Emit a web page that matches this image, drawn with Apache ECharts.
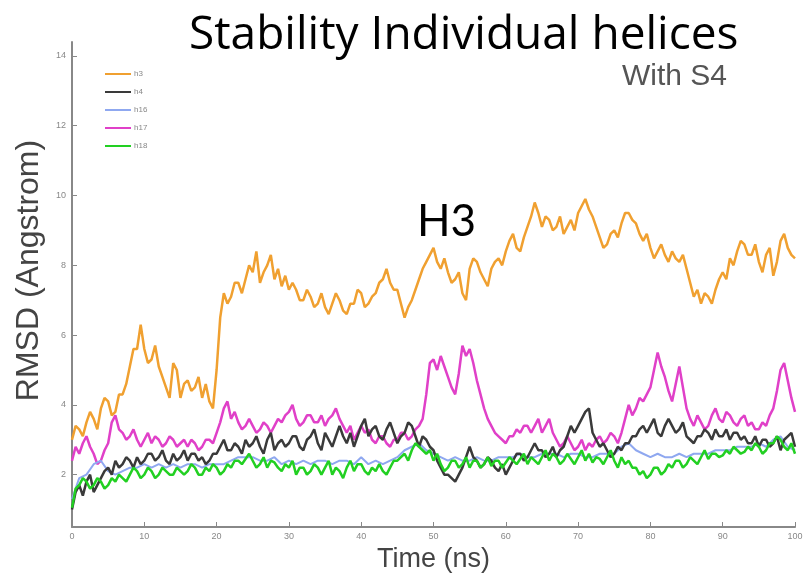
<!DOCTYPE html>
<html>
<head>
<meta charset="utf-8">
<script src="https://cdn.jsdelivr.net/npm/echarts@6/dist/echarts.min.js"></script>
<style>
html,body{margin:0;padding:0;background:#fff;}
#main{width:808px;height:582px;}
</style>
</head>
<body>
<div id="main"></div>
<script>
// RMSD per helix, sampled every 0.5 ns (h16 every 1 ns), 0..100 ns
const h3=[3.0,3.4, 3.3,3.1, 3.5,3.8, 3.6,3.3, 3.9,4.2, 4.1,3.7, 3.8,4.3, 4.3,4.6, 5.1,5.6, 5.6,6.3,
  5.6,5.2, 5.3,5.7, 5.1,4.8, 4.5,4.2, 5.2,5.0, 4.2,4.6, 4.7,4.4, 4.5,4.8, 4.2,4.6, 4.1,3.9,
  5.0,6.5, 7.2,6.9, 7.1,7.5, 7.5,7.2, 7.6,8.0, 7.8,8.4, 7.5,7.8, 8.0,8.3, 7.6,7.9, 7.4,7.7,
  7.3,7.5, 7.3,7.0, 7.0,7.3, 7.1,6.8, 6.9,7.2, 6.8,6.6, 6.9,7.2, 7.0,6.7, 6.6,6.9, 6.9,7.3,
  7.2,6.8, 6.9,7.1, 7.2,7.5, 7.6,7.9, 7.5,7.3, 7.3,6.9, 6.5,6.8, 7.0,7.3, 7.6,7.9, 8.1,8.3,
  8.5,8.1, 7.9,8.2, 7.8,7.5, 7.6,7.8, 7.2,7.0, 7.9,8.2, 8.1,7.8, 7.6,7.4, 7.9,8.1, 8.2,8.0,
  8.4,8.7, 8.9,8.5, 8.4,8.8, 9.1,9.4, 9.8,9.5, 9.1,9.4, 9.3,9.0, 9.1,9.4, 8.9,9.1, 9.3,9.0,
  9.5,9.7, 9.9,9.6, 9.4,9.1, 8.8,8.5, 8.6,8.9, 9.0,8.8, 9.2,9.5, 9.5,9.3, 9.2,8.9, 8.7,8.9,
  8.5,8.2, 8.4,8.6, 8.3,8.1, 8.4,8.2, 8.1,8.3, 7.9,7.5, 7.1,7.3, 6.9,7.2, 7.1,6.9, 7.3,7.6,
  7.8,7.6, 8.2,8.0, 8.4,8.7, 8.6,8.3, 8.3,8.6, 8.1,7.8, 8.3,8.5, 7.7,8.1, 8.7,8.9, 8.5,8.3, 8.2];
const h4=[1.0,1.5, 1.7,1.4, 1.8,2.0, 1.5,1.7, 1.9,2.1, 2.2,2.0, 2.4,2.2, 2.3,2.5, 2.4,2.2, 2.5,2.3,
  2.4,2.6, 2.6,2.4, 2.5,2.7, 2.4,2.3, 2.6,2.4, 2.5,2.7, 2.4,2.6, 2.6,2.4, 2.5,2.3, 2.4,2.6,
  2.6,2.8, 3.0,2.7, 2.7,2.9, 2.8,2.6, 3.0,2.8, 2.9,3.1, 2.8,2.6, 3.0,3.2, 2.7,2.9, 3.0,2.8,
  2.9,3.1, 3.1,2.8, 2.7,3.0, 3.1,3.3, 2.9,2.7, 3.2,3.0, 2.8,3.1, 3.4,3.1, 2.9,3.2, 2.8,3.1,
  3.4,3.6, 3.1,3.3, 3.4,3.1, 3.0,3.3, 3.5,3.2, 2.9,3.1, 3.2,3.5, 3.4,3.1, 2.8,3.1, 3.0,2.8,
  2.7,2.4, 2.2,2.0, 2.0,1.9, 1.8,2.0, 2.2,2.5, 2.8,2.5, 2.4,2.2, 2.3,2.5, 2.4,2.2, 2.1,2.3,
  2.0,2.2, 2.4,2.6, 2.6,2.4, 2.5,2.7, 2.9,2.7, 2.7,2.5, 2.6,2.8, 2.5,2.7, 2.8,3.1, 3.4,3.2,
  3.4,3.6, 3.8,3.9, 3.2,3.0, 2.8,2.9, 2.7,2.5, 2.6,2.8, 2.7,2.9, 2.9,3.1, 3.1,3.3, 3.4,3.2,
  3.4,3.6, 3.2,3.1, 3.4,3.6, 3.4,3.2, 3.3,3.5, 3.1,3.0, 2.9,3.1, 3.1,3.3, 3.2,3.0, 3.3,3.1,
  3.1,3.3, 3.0,3.2, 3.2,3.0, 3.1,2.9, 2.9,3.1, 2.8,3.0, 3.0,2.8, 2.9,3.1, 2.7,3.0, 3.1,3.2, 2.8];
const h16=[1.3,1.9,2.0,2.3,2.4,2.1,2.0,2.1,2.2,2.2,2.3,2.2,2.3,2.2,2.3,2.2,2.3,2.3,2.2,2.3,
  2.3,2.3,2.4,2.5,2.5,2.5,2.4,2.4,2.5,2.3,2.4,2.3,2.4,2.3,2.4,2.4,2.3,2.4,2.4,2.3,
  2.5,2.3,2.4,2.3,2.4,2.5,2.7,2.8,2.9,2.7,2.6,2.5,2.4,2.5,2.4,2.4,2.5,2.4,2.4,2.5,
  2.5,2.5,2.6,2.5,2.5,2.6,2.6,2.6,2.5,2.6,2.6,2.5,2.5,2.6,2.6,2.6,2.8,2.9,2.7,2.6,
  2.5,2.6,2.5,2.5,2.6,2.5,2.6,2.6,2.6,2.7,2.7,2.7,2.8,2.8,2.8,2.9,2.8,3.0,3.1,2.8,2.7];
const h17=[2.4,2.8, 2.6,2.9, 3.1,2.8, 2.6,2.3, 2.4,2.7, 2.9,3.5, 3.7,3.3, 3.2,3.0, 3.1,3.3, 3.0,2.8,
  3.0,3.2, 2.9,3.1, 3.0,2.8, 2.9,3.1, 3.0,2.8, 2.9,3.0, 2.8,3.0, 2.9,2.7, 2.8,3.0, 3.0,2.9,
  3.2,3.5, 3.9,4.1, 3.6,3.8, 3.5,3.3, 3.4,3.6, 3.4,3.2, 3.3,3.5, 3.4,3.2, 3.4,3.6, 3.5,3.7,
  3.8,4.0, 3.6,3.4, 3.5,3.7, 3.7,3.5, 3.5,3.7, 3.4,3.6, 3.7,3.9, 3.6,3.4, 3.2,3.4, 3.0,3.2,
  3.4,3.2, 3.3,3.0, 2.9,3.1, 3.1,2.9, 2.8,3.0, 3.0,3.2, 3.2,3.0, 3.1,3.3, 3.4,3.6, 4.3,5.2,
  5.3,5.0, 5.4,5.1, 4.8,4.5, 4.3,4.9, 5.7,5.4, 5.6,5.2, 4.7,4.3, 3.9,3.6, 3.4,3.2, 3.1,3.0,
  2.9,3.1, 3.1,3.3, 3.2,3.4, 3.4,3.2, 3.4,3.6, 3.2,3.4, 3.6,3.2, 3.0,2.8, 2.9,3.1, 2.9,2.7,
  2.8,3.0, 2.7,2.9, 2.8,3.0, 3.1,2.9, 3.0,3.2, 3.1,2.9, 3.2,3.6, 4.0,3.7, 3.9,4.2, 4.1,4.3,
  4.5,5.0, 5.5,5.1, 4.8,4.4, 4.1,4.6, 5.1,4.5, 3.9,3.6, 3.4,3.7, 3.5,3.3, 3.4,3.7, 3.9,3.6,
  3.5,3.8, 3.7,3.5, 3.4,3.6, 3.7,3.4, 3.5,3.3, 3.3,3.5, 3.4,3.7, 3.9,4.4, 5.0,5.2, 4.7,4.2, 3.8];
const h18=[1.05,1.6, 1.7,1.9, 1.8,1.6, 1.7,1.9, 1.8,1.6, 1.7,1.9, 1.8,2.0, 1.9,1.8, 2.0,2.2, 2.1,1.9,
  2.0,2.2, 2.1,1.9, 2.0,2.2, 2.1,2.0, 2.0,2.2, 2.1,2.0, 2.1,2.3, 2.2,2.0, 2.0,2.2, 2.1,2.3,
  2.2,2.0, 2.1,2.3, 2.2,2.4, 2.4,2.3, 2.45,2.6, 2.4,2.2, 2.3,2.5, 2.2,2.4, 2.35,2.2, 2.1,2.3,
  2.2,2.4, 2.0,2.2, 2.2,2.0, 2.1,2.3, 2.2,2.0, 2.2,2.4, 2.0,2.2, 2.1,1.9, 2.2,2.4, 2.1,2.3,
  2.3,2.1, 2.0,2.2, 2.1,2.3, 2.1,2.0, 2.2,2.4, 2.4,2.5, 2.6,2.4, 2.7,2.9, 2.8,2.7, 2.6,2.7,
  2.4,2.6, 2.3,2.1, 2.2,2.4, 2.4,2.2, 2.3,2.5, 2.2,2.4, 2.4,2.2, 2.3,2.5, 2.25,2.4, 2.4,2.2,
  2.35,2.5, 2.4,2.3, 2.45,2.6, 2.3,2.5, 2.4,2.3, 2.5,2.7, 2.4,2.6, 2.5,2.3, 2.4,2.6, 2.45,2.3,
  2.5,2.7, 2.4,2.6, 2.35,2.5, 2.45,2.3, 2.5,2.7, 2.4,2.2, 2.5,2.3, 2.4,2.2, 2.2,2.0, 2.1,1.9,
  2.0,2.2, 2.2,2.0, 2.1,2.3, 2.2,2.4, 2.4,2.2, 2.3,2.5, 2.4,2.3, 2.5,2.7, 2.45,2.6, 2.6,2.5,
  2.55,2.7, 2.6,2.8, 2.7,2.6, 2.65,2.8, 2.7,2.9, 2.8,2.6, 2.7,2.9, 2.9,3.1, 3.0,2.8, 2.7,2.9, 2.6];
const yTicks=[2,4,6,8,10,12,14];
const seriesNames=['h3','h4','h16','h17','h18'];
const seriesColors=['#f0a030','#3a3a3a','#8fa8f0','#e040c8','#22d022'];
const sampleStep={h3:0.5,h4:0.5,h16:1,h17:0.5,h18:0.5};

const chart=echarts.init(document.getElementById('main'),null,{renderer:'canvas'});

function toPairs(arr,step){
  return arr.map(function(v,i){return [i*step,v];});
}
const dataMap={h3:h3,h4:h4,h16:h16,h17:h17,h18:h18};
// draw order: magenta under the dark line, green on top
const drawOrder=['h3','h17','h16','h4','h18'];

const option={
  animation:false,
  backgroundColor:'#fff',
  title:{
    text:'Stability Individual helices',
    left:184,
    top:8,
    textStyle:{fontFamily:'Open Sans',fontWeight:'normal',fontSize:46,color:'#000'}
  },
  graphic:[
    {type:'text',left:622,top:62,style:{text:'With S4',font:'30px "Liberation Sans"',fill:'#555'}},
    {type:'text',left:417,top:200,style:{text:'H3',font:'44px Lato',fill:'#000'}}
  ],
  legend:{
    orient:'vertical',
    left:100,
    top:65,
    itemWidth:26,
    itemHeight:2,
    itemGap:10,
    icon:'rect',
    data:seriesNames,
    textStyle:{fontSize:8,color:'#888',fontFamily:'Liberation Sans',padding:[0,0,0,-2]}
  },
  grid:{left:72,right:13,top:42,bottom:55},
  xAxis:{
    type:'value',
    min:0,max:100,interval:10,
    name:'Time (ns)',
    nameLocation:'middle',
    nameGap:18,
    nameTextStyle:{fontFamily:'Liberation Sans',fontSize:27,color:'#444',verticalAlign:'top'},
    axisLine:{lineStyle:{color:'#888',width:2}},
    axisTick:{inside:true,length:5,lineStyle:{color:'#888'}},
    axisLabel:{fontSize:9,color:'#888',margin:5,fontFamily:'Liberation Sans'},
    splitLine:{show:false}
  },
  yAxis:{
    type:'value',
    min:0.5,max:14.4,
    name:'RMSD (Angstrom)',
    nameLocation:'middle',
    nameGap:24,
    nameTextStyle:{fontFamily:'Liberation Sans',fontSize:32,color:'#444',padding:[0,0,0,28]},
    axisLine:{show:true,lineStyle:{color:'#888',width:2}},
    axisTick:{show:true,inside:true,length:5,customValues:yTicks,lineStyle:{color:'#888'}},
    axisLabel:{fontSize:9,color:'#888',margin:6,customValues:yTicks,fontFamily:'Liberation Sans'},
    splitLine:{show:false}
  },
  series:drawOrder.map(function(name){
    const idx=seriesNames.indexOf(name);
    return {
      name:name,
      type:'line',
      data:toPairs(dataMap[name],sampleStep[name]),
      symbol:'none',
      color:seriesColors[idx],
      lineStyle:{width:name==='h16'?2:2.5,color:seriesColors[idx]},
      z:2+drawOrder.indexOf(name)
    };
  })
};
chart.setOption(option);
</script>
</body>
</html>
